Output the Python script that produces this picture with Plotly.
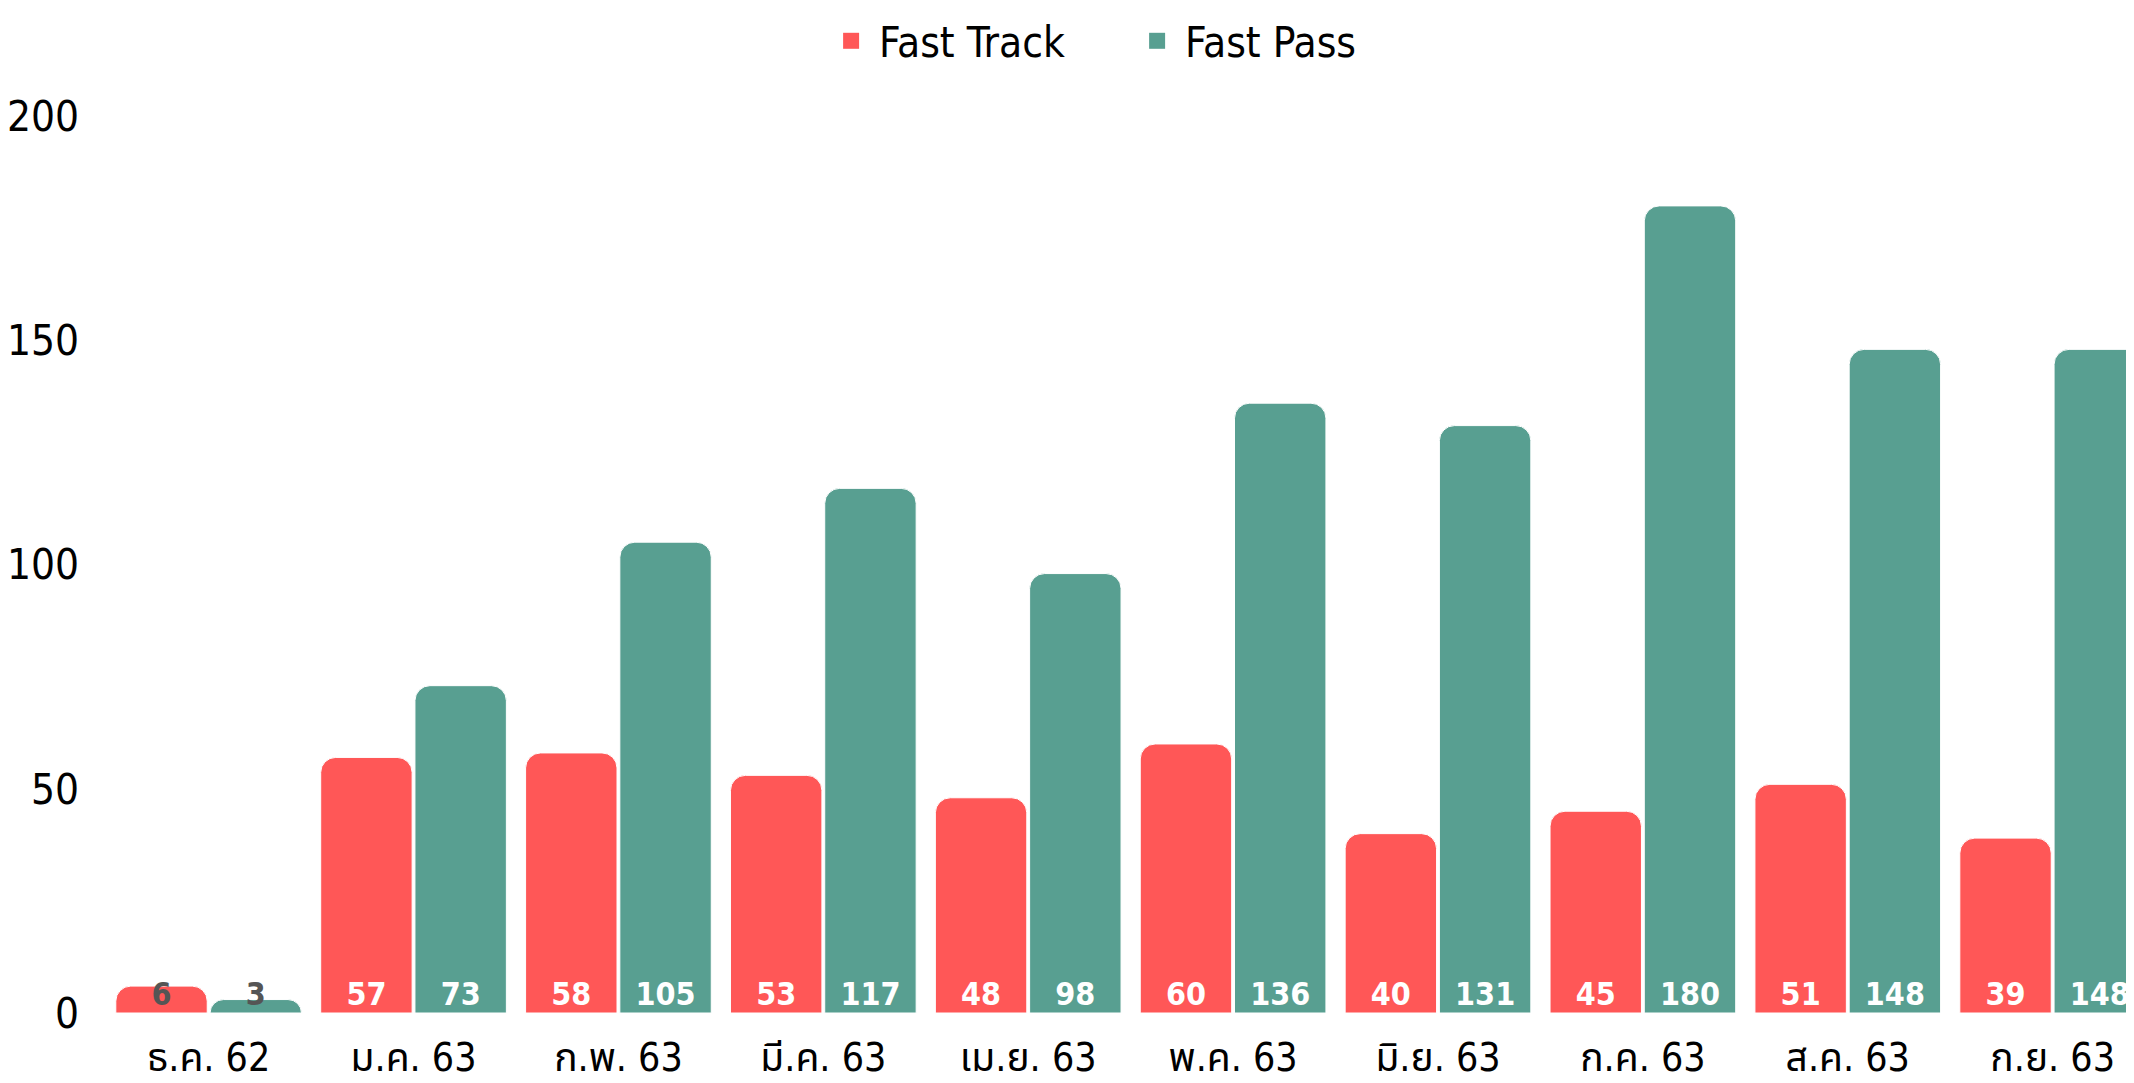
import plotly.graph_objects as go

categories = ["ธ.ค. 62", "ม.ค. 63", "ก.พ. 63", "มี.ค. 63", "เม.ย. 63",
              "พ.ค. 63", "มิ.ย. 63", "ก.ค. 63", "ส.ค. 63", "ก.ย. 63"]
fast_track = [6, 57, 58, 53, 48, 60, 40, 45, 51, 39]
fast_pass = [3, 73, 105, 117, 98, 136, 131, 180, 148, 148]
series_names = ["Fast Track", "Fast Pass"]
y_ticks = [0, 50, 100, 150, 200]

RED = "#FF5757"
GREEN = "#589F91"
FONT = "DejaVu Sans Condensed, Noto Sans Thai, Noto Sans, sans-serif"
BARGAP = 0.08


def label_colors(vals):
    return ["#555555" if v < 10 else "#FFFFFF" for v in vals]


fig = go.Figure()
for i, (name, vals, col) in enumerate(zip(series_names, (fast_track, fast_pass), (RED, GREEN))):
    fig.add_trace(go.Bar(name=name, x=categories, y=vals, showlegend=False,
                         offsetgroup=f"g{i}", alignmentgroup="bars",
                         marker=dict(color=col, cornerradius=15, line=dict(color="white", width=1)),
                         hoverinfo="skip"))
for i, vals in enumerate((fast_track, fast_pass)):
    fig.add_trace(go.Scatter(x=categories, y=[0] * len(vals), mode="text",
                             offsetgroup=f"g{i}", alignmentgroup="labels",
                             text=[str(v) for v in vals], textposition="top center",
                             textfont=dict(family=FONT, size=32, color=label_colors(vals), weight="bold"),
                             showlegend=False, hoverinfo="skip", cliponaxis=False))
# legend entries (square swatches)
for name, col in zip(series_names, (RED, GREEN)):
    fig.add_trace(go.Scatter(x=[None], y=[None], mode="markers", name=name,
                             offsetgroup="leg", alignmentgroup="legend",
                             marker=dict(symbol="square", size=16, color=col),
                             hoverinfo="skip"))

fig.update_layout(
    width=2126, height=1075,
    paper_bgcolor="white", plot_bgcolor="white",
    barmode="group", bargap=BARGAP, bargroupgap=0.03,
    scattermode="group", scattergap=BARGAP,
    margin=dict(l=90, r=0, t=90, b=70),
    font=dict(family=FONT, color="black"),
    legend=dict(orientation="h", x=0.3834, xanchor="left", xref="container",
                y=1 - 33 / 1075, yanchor="middle", yref="container",
                font=dict(size=42), itemsizing="trace", itemwidth=46,
                entrywidth=245, entrywidthmode="pixels"),
    xaxis=dict(range=[-0.540, 9.397], showgrid=False, zeroline=False, showline=False,
               tickfont=dict(size=39), ticks="", ticklabelstandoff=18, automargin=False),
    yaxis=dict(range=[0, 204.06], tickvals=y_ticks, showgrid=False, zeroline=False,
               showline=False, tickfont=dict(size=42), ticks="", ticklabelstandoff=18,
               automargin=False),
)
fig.write_html("out.html")
